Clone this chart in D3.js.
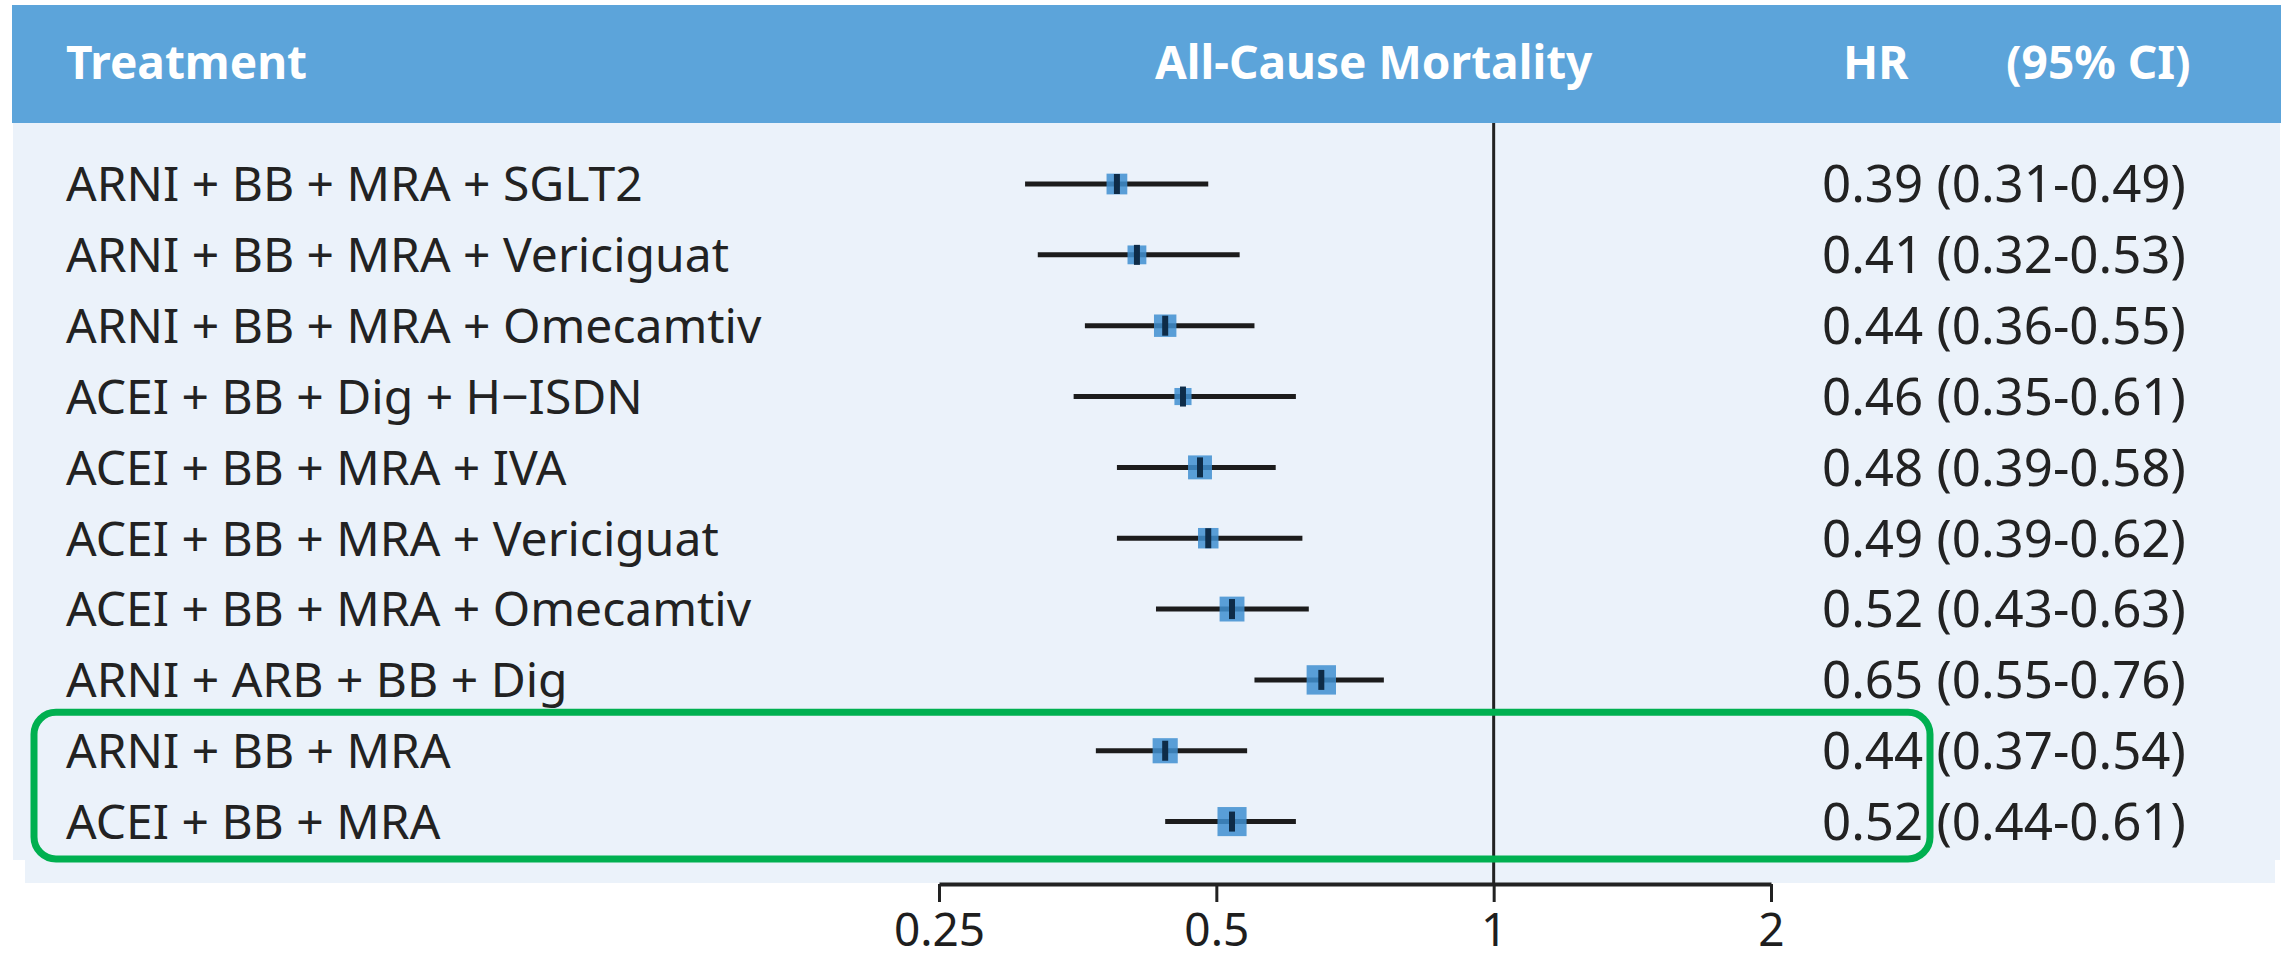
<!DOCTYPE html>
<html>
<head>
<meta charset="utf-8">
<script src="https://cdn.jsdelivr.net/npm/d3@7"></script>
<style>
  html, body { margin: 0; padding: 0; background: #fff; }
  svg { display: block; font-family: "Noto Sans", "Open Sans", sans-serif; }
</style>
</head>
<body>
<div id="chart"></div>
<script>
// ----------------------------------------------------------------------
// data

const treatments = [
    "ARNI + BB + MRA + SGLT2",
    "ARNI + BB + MRA + Vericiguat",
    "ARNI + BB + MRA + Omecamtiv",
    "ACEI + BB + Dig + H\u2212ISDN",
    "ACEI + BB + MRA + IVA",
    "ACEI + BB + MRA + Vericiguat",
    "ACEI + BB + MRA + Omecamtiv",
    "ARNI + ARB + BB + Dig",
    "ARNI + BB + MRA",
    "ACEI + BB + MRA"
];
const hr    = [0.39, 0.41, 0.44, 0.46, 0.48, 0.49, 0.52, 0.65, 0.44, 0.52];
const ciLow = [0.31, 0.32, 0.36, 0.35, 0.39, 0.39, 0.43, 0.55, 0.37, 0.44];
const ciHigh= [0.49, 0.53, 0.55, 0.61, 0.58, 0.62, 0.63, 0.76, 0.54, 0.61];
const highlighted = ["ARNI + BB + MRA", "ACEI + BB + MRA"];

const tickValues = [0.25, 0.5, 1, 2];
const headers = { treatment: "Treatment", outcome: "All-Cause Mortality", hr: "HR", ci: "(95% CI)" };

// ----------------------------------------------------------------------

const width = 2288, height = 960;
const fmt = d3.format(".2f");

const rows = treatments.map((t, i) => ({
    name: t, hr: hr[i], lo: ciLow[i], hi: ciHigh[i]
}));

const svg = d3.select("#chart").append("svg")
    .attr("width", width)
    .attr("height", height);

const x = d3.scaleLog().base(2)
    .domain([0.25, 2])
    .range([939, 1771]);

const y = d3.scaleBand()
    .domain(treatments)
    .range([148.6, 857]);

// backgrounds
svg.append("rect")
    .attr("x", 13).attr("y", 123)
    .attr("width", 2267).attr("height", 737)
    .attr("fill", "#ebf2fa");
svg.append("rect")
    .attr("x", 25).attr("y", 858)
    .attr("width", 2250).attr("height", 25)
    .attr("fill", "#ebf2fa");
svg.append("rect")
    .attr("x", 12).attr("y", 5)
    .attr("width", 2269).attr("height", 118)
    .attr("fill", "#5ca4da");

// header text
const head = svg.append("g")
    .attr("fill", "#fff")
    .attr("font-weight", 700)
    .attr("font-size", 46);
head.append("text").attr("x", 66).attr("y", 79).text(headers.treatment);
head.append("text").attr("x", 1155).attr("y", 79).text(headers.outcome);
head.append("text").attr("x", 1843).attr("y", 79).text(headers.hr);
head.append("text").attr("x", 2006).attr("y", 79).text(headers.ci);

// line of no effect
svg.append("line")
    .attr("x1", x(1)).attr("x2", x(1))
    .attr("y1", 123).attr("y2", 884)
    .attr("stroke", "#222")
    .attr("stroke-width", 3);

// x axis
const axis = svg.append("g")
    .attr("transform", "translate(0,884)")
    .call(d3.axisBottom(x)
        .tickValues(tickValues)
        .tickFormat(d => String(d))
        .tickSize(18)
        .tickSizeOuter(0)
        .tickPadding(11));
axis.select(".domain").attr("stroke", "#222").attr("stroke-width", 4);
axis.selectAll(".tick line").attr("stroke", "#222").attr("stroke-width", 3);
axis.selectAll(".tick text")
    .attr("fill", "#1e1e1e")
    .attr("font-size", 46)
    .attr("font-family", "Noto Sans, sans-serif");

// rows
const row = svg.append("g").selectAll("g")
    .data(rows)
    .enter()
    .append("g")
    .attr("transform", d => `translate(0,${y(d.name) + y.bandwidth() / 2})`);

row.append("text")
    .attr("x", 66)
    .attr("dy", "0.36em")
    .attr("font-size", 48)
    .attr("fill", "#222")
    .text(d => d.name);

row.append("text")
    .attr("x", 1822)
    .attr("dy", "0.36em")
    .attr("font-size", 51)
    .attr("fill", "#222")
    .text(d => `${fmt(d.hr)} (${fmt(d.lo)}-${fmt(d.hi)})`);

row.append("line")
    .attr("x1", d => x(d.lo))
    .attr("x2", d => x(d.hi))
    .attr("stroke", "#1c1c1c")
    .attr("stroke-width", 5);

// box size ~ precision (inverse of log CI width)
const boxSize = d => 9.5 / Math.log(d.hi / d.lo);

row.append("rect")
    .attr("x", d => x(d.hr) - boxSize(d) / 2)
    .attr("y", d => -boxSize(d) / 2)
    .attr("width", boxSize)
    .attr("height", boxSize)
    .attr("fill", "#3f8fd0")
    .attr("opacity", 0.85);

row.append("line")
    .attr("x1", d => x(d.hr)).attr("x2", d => x(d.hr))
    .attr("y1", -10).attr("y2", 10)
    .attr("stroke", "#0e2c48")
    .attr("stroke-width", 6);

// highlight box round the reference regimens
const yTop = y(highlighted[0]) - 3;
const yBot = y(highlighted[highlighted.length - 1]) + y.bandwidth() + 2;
svg.append("rect")
    .attr("x", 34).attr("y", yTop)
    .attr("width", 1930 - 34)
    .attr("height", yBot - yTop)
    .attr("rx", 22).attr("ry", 22)
    .attr("fill", "none")
    .attr("stroke", "#00b050")
    .attr("stroke-width", 7);
</script>
</body>
</html>
